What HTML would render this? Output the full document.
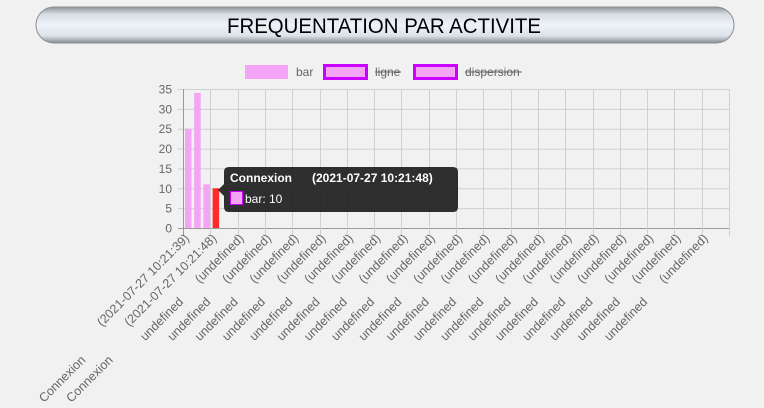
<!DOCTYPE html>
<html><head><meta charset="utf-8">
<style>
html,body{margin:0;padding:0;background:#f1f1f1;width:764px;height:408px;overflow:hidden}
svg{display:block;font-family:"Liberation Sans",sans-serif}
.pre{white-space:pre}
</style></head>
<body>
<svg id="chart" width="764" height="408" viewBox="0 0 764 408">
<defs>
<linearGradient id="pill" x1="0" y1="0" x2="0" y2="1">
<stop offset="0" stop-color="#8f949b"/><stop offset="0.2" stop-color="#d8dde4"/>
<stop offset="0.5" stop-color="#eef3fa"/><stop offset="0.8" stop-color="#dde2e9"/><stop offset="1" stop-color="#878b91"/>
</linearGradient>
</defs>
<g>
<rect x="36" y="7" width="698" height="36" rx="18" fill="url(#pill)" stroke="#8a8e94" stroke-width="1"/>
<text x="384" y="33" text-anchor="middle" font-size="21" textLength="314" lengthAdjust="spacingAndGlyphs" fill="#000">FREQUENTATION PAR ACTIVITE</text>
</g>
<g>
<g>
<rect x="245" y="65" width="43" height="14" fill="#f4a4f4"/>
<text x="296" y="76" font-size="12" fill="#666">bar</text></g>
<g>
<rect x="324.5" y="65.5" width="42" height="13" fill="#f4a4f4" stroke="#cc00ff" stroke-width="3"/>
<text x="375" y="76" font-size="12" fill="#666">ligne</text>
<line x1="375" y1="72" x2="401" y2="72" stroke="#666" stroke-width="1"/></g>
<g>
<rect x="414.5" y="65.5" width="42" height="13" fill="#f4a4f4" stroke="#cc00ff" stroke-width="3"/>
<text x="465" y="76" font-size="12" fill="#666">dispersion</text>
<line x1="465" y1="72" x2="522" y2="72" stroke="#666" stroke-width="1"/></g>
</g>
<g id="grid"></g>
<g id="bars"></g>
<g id="labels"></g>
<g>
<path d="M229,167 H453 Q458,167 458,172 V207 Q458,212 453,212 H229 Q224,212 224,207 V196 L218,190 L224,184 V172 Q224,167 229,167 Z" fill="#1a1a1a" opacity="0.9"/>
<text class="pre" x="230" y="182" font-size="12" font-weight="bold" fill="#fff">Connexion      (2021-07-27 10:21:48)</text>
<rect x="230.5" y="191.5" width="12" height="13" fill="#f4a4f4" stroke="#cc00ff" stroke-width="1"/>
<text x="245" y="203" font-size="12" fill="#fff">bar: 10</text>
</g>
</svg>
<script>
const categories = ["Connexion (2021-07-27 10:21:39)","Connexion (2021-07-27 10:21:48)"];
const undefinedCount = 18;
const barValues = [25, 34, 11, 10];
const barColors = ["#f4a4f4","#f4a4f4","#f4a4f4","#ff2a2a"];
const yTicks = [0,5,10,15,20,25,30,35];

const NS="http://www.w3.org/2000/svg";
const X0=183,X1=729,Y0=228,Y1=89,YMAX=35;
const labels=[];
categories.forEach(c=>{const i=c.indexOf(" (");labels.push([c.slice(0,i),c.slice(i+1)]);});
for(let i=0;i<undefinedCount;i++)labels.push(["undefined","(undefined)"]);
const n=labels.length, step=(X1-X0)/n;
const y=v=>Y0-(v/YMAX)*(Y0-Y1);
const xc=i=>X0+i*step;
function mk(tag,attrs,parent){const e=document.createElementNS(NS,tag);for(const k in attrs)e.setAttribute(k,attrs[k]);parent.appendChild(e);return e;}
const grid=document.getElementById('grid');
yTicks.forEach(t=>{
  const l=mk('line',{x1:X0-5,x2:X1,y1:y(t)+0.5,y2:y(t)+0.5,stroke:t===0?'#999':'#d0d0d0'},grid);
  
  
  const tx=mk('text',{x:172,y:y(t)+4.5,'text-anchor':'end','font-size':12,fill:'#666'},grid);
  tx.textContent=t;
  
  
});
for(let i=0;i<=n;i++){
  const x=Math.round(xc(i))+0.5;
  const l=mk('line',{x1:x,x2:x,y1:Y1,y2:Y0+8,stroke:i===0?'#999':'#d0d0d0'},grid);
  
  
}
const bars=document.getElementById('bars');
barValues.forEach((v,i)=>{
  const bx=X0+2+i*9.2;
  const r=mk('rect',{x:bx,y:y(v),width:6.5,height:Y0-y(v),fill:barColors[i]},bars);
  
  
});
const lg=document.getElementById('labels');
labels.forEach((lb,i)=>{
  const tx=xc(i)+7, ty=Y0+11;
  const isUndef = lb[0]==="undefined";
  const gap = isUndef?24.5:35, off = isUndef?2.1:12.7;
  const t=mk('text',{transform:`translate(${tx},${ty}) rotate(-45)`,'text-anchor':'end','font-size':12.5,fill:'#666','class':'pre'},lg);
  
  
  const s1=mk('tspan',{dy:off},t);
  s1.textContent=lb[0];
  const s2=mk('tspan',{dy:-off,dx:gap},t);
  s2.textContent=lb[1];
});
</script>
</body></html>
